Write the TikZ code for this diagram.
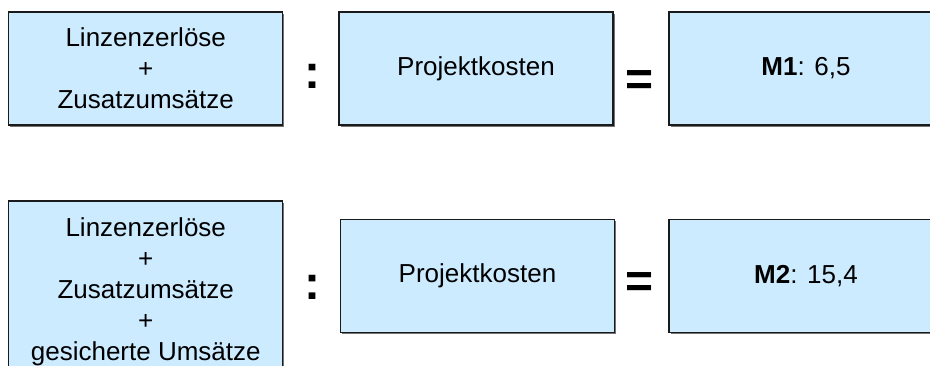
\documentclass[tikz,border=0pt]{standalone}
\usepackage{fontspec}
\setmainfont{Liberation Sans}
\usetikzlibrary{shadows}
\definecolor{boxblue}{HTML}{CCEBFF}
\definecolor{boxline}{HTML}{1A1A1A}
\begin{document}
\begin{tikzpicture}[x=1pt,y=-1pt,
  box/.style={draw=boxline, line width=1.4pt, fill=boxblue,
    minimum width=274pt, minimum height=113pt, inner sep=0pt, align=center,
    font=\fontsize{26}{31}\selectfont,
    drop shadow={shadow xshift=1.6pt, shadow yshift=-1.6pt, fill=black!55, opacity=1}},
  tallbox/.style={box, minimum height=182pt},
  op/.style={font=\fontsize{48}{48}\bfseries\selectfont, inner sep=0pt}]
\useasboundingbox (0,0) rectangle (930,365);
\fill[white] (0,0) rectangle (930,365);
\clip (0,0) rectangle (930,365);

% first ratio: licence revenue and extra sales over project cost
\node[box] (num1) at (145.75,68.5) {Linzenzerlöse\\+\\Zusatzumsätze};
\node[op] (div1) at (312,76) {:};
\node[box] (den1) at (476,68.5) {Projektkosten};
\node[op] (eq1) at (640,83) {=};
\node[box] (res1) at (806,68.5) {\textbf{M1}: 6,5};

% second ratio: secured sales added to the numerator
\node[tallbox] (num2) at (145.75,292) {Linzenzerlöse\\+\\Zusatzumsätze\\+\\gesicherte Umsätze};
\node[op] (div2) at (312,287) {:};
\node[box] (den2) at (477.5,276) {Projektkosten};
\node[op] (eq2) at (640,285.5) {=};
\node[box] (res2) at (806,276) {\textbf{M2}: 15,4};
\end{tikzpicture}
\end{document}
